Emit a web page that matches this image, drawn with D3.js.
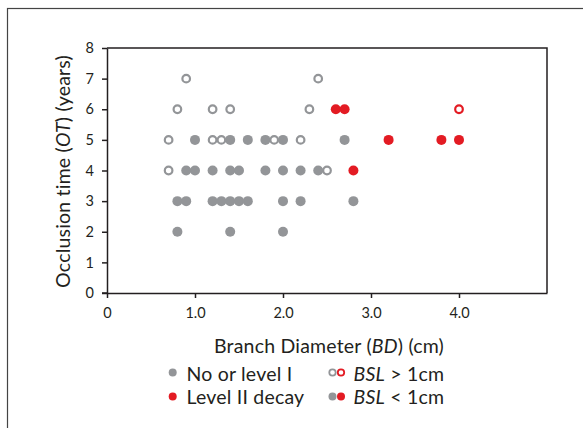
<!DOCTYPE html>
<html>
<head>
<meta charset="utf-8">
<script src="https://cdn.jsdelivr.net/npm/d3@7"></script>
<style>
  html, body { margin: 0; padding: 0; background: #fff; }
  svg { display: block; font-family: Lato, "Open Sans", sans-serif; }
</style>
</head>
<body>
<svg id="chart" width="583" height="428"></svg>
<script>
// ---- Data (Branch Diameter cm, Occlusion time years) ----
const grayOpenBD   = [0.9, 2.4, 0.8, 1.2, 1.4, 2.3, 0.7, 1.2, 1.3, 1.9, 2.2, 0.7, 2.5];
const grayOpenOT   = [7,   7,   6,   6,   6,   6,   5,   5,   5,   5,   5,   4,   4];

const grayFilledBD = [1.0, 1.4, 1.6, 1.8, 2.0, 2.7,
                      0.9, 1.0, 1.2, 1.4, 1.5, 1.8, 2.0, 2.2, 2.4,
                      0.8, 0.9, 1.2, 1.3, 1.4, 1.5, 1.6, 2.0, 2.2, 2.8,
                      0.8, 1.4, 2.0];
const grayFilledOT = [5, 5, 5, 5, 5, 5,
                      4, 4, 4, 4, 4, 4, 4, 4, 4,
                      3, 3, 3, 3, 3, 3, 3, 3, 3, 3,
                      2, 2, 2];

const redFilledBD  = [2.6, 2.7, 3.2, 3.8, 4.0, 2.8];
const redFilledOT  = [6,   6,   5,   5,   5,   4];

const redOpenBD    = [4.0];
const redOpenOT    = [6];

const xTicks = [0, 1, 2, 3, 4];
const xTickLabels = ["0", "1.0", "2.0", "3.0", "4.0"];
const yTicks = [0, 1, 2, 3, 4, 5, 6, 7, 8];

const GRAY = "#939598";
const RED = "#e31b23";
const INK = "#231f20";

const svg = d3.select("#chart");

// outer figure border
svg.append("rect")
  .attr("x", 7.5).attr("y", 8.5)
  .attr("width", 600).attr("height", 450)
  .attr("fill", "none").attr("stroke", "#444").attr("stroke-width", 1.2);

const L = 107, R = 547, T = 48, B = 293;
const x = d3.scaleLinear().domain([0, 5]).range([L, R]);
const y = d3.scaleLinear().domain([0, 8]).range([B, T]);

// plot frame (top and right)
svg.append("path")
  .attr("d", `M${L},${T}H${R}V${B}`)
  .attr("fill", "none").attr("stroke", INK).attr("stroke-width", 1.5);

const xAxis = svg.append("g").attr("transform", `translate(0,${B})`)
  .call(d3.axisBottom(x).tickValues(xTicks).tickFormat((d, i) => xTickLabels[i])
    .tickSizeInner(5).tickSizeOuter(0).tickPadding(10));
const yAxis = svg.append("g").attr("transform", `translate(${L},0)`)
  .call(d3.axisLeft(y).tickValues(yTicks).tickFormat(d3.format("d"))
    .tickSizeInner(5).tickSizeOuter(0).tickPadding(8));

[xAxis, yAxis].forEach(g => {
  g.select(".domain").attr("stroke", INK).attr("stroke-width", 1.5);
  g.selectAll(".tick line").attr("stroke", INK).attr("stroke-width", 1.5);
  g.selectAll(".tick text").attr("fill", INK).attr("font-size", 14.5)
    .attr("font-family", "Lato, sans-serif");
});
svg.append("line").attr("x1", L - 5).attr("x2", L).attr("y1", B).attr("y2", B)
  .attr("stroke", INK).attr("stroke-width", 1.5);

// axis titles
const TITLE_FS = 19.5;
const xt = svg.append("text").attr("x", 329).attr("y", 353)
  .attr("text-anchor", "middle").attr("font-size", TITLE_FS).attr("fill", INK)
  .attr("letter-spacing", 0.2);
xt.append("tspan").text("Branch Diameter (");
xt.append("tspan").attr("font-style", "italic").text("BD");
xt.append("tspan").text(") (cm)");

const yt = svg.append("text").attr("transform", "translate(70,171.5) rotate(-90)")
  .attr("text-anchor", "middle").attr("font-size", TITLE_FS).attr("fill", INK)
  .attr("letter-spacing", 0.2);
yt.append("tspan").text("Occlusion time (");
yt.append("tspan").attr("font-style", "italic").text("OT");
yt.append("tspan").text(") (years)");

// points
const pts = svg.append("g");
function filled(bd, ot, color) {
  pts.selectAll(null).data(d3.zip(bd, ot)).join("circle")
    .attr("cx", d => x(d[0])).attr("cy", d => y(d[1])).attr("r", 5)
    .attr("fill", color);
}
function open(bd, ot, color) {
  pts.selectAll(null).data(d3.zip(bd, ot)).join("circle")
    .attr("cx", d => x(d[0])).attr("cy", d => y(d[1])).attr("r", 3.8)
    .attr("fill", "#fff").attr("stroke", color).attr("stroke-width", 2.2);
}
filled(grayFilledBD, grayFilledOT, GRAY);
filled(redFilledBD, redFilledOT, RED);
open(grayOpenBD, grayOpenOT, GRAY);
open(redOpenBD, redOpenOT, RED);

// legend
const lg = svg.append("g").attr("font-size", TITLE_FS).attr("fill", INK)
  .attr("letter-spacing", 0.2);
lg.append("circle").attr("cx", 172.7).attr("cy", 372.5).attr("r", 4).attr("fill", GRAY);
lg.append("text").attr("x", 186.5).attr("y", 381).text("No or level I");
lg.append("circle").attr("cx", 172.7).attr("cy", 396.5).attr("r", 4).attr("fill", RED);
lg.append("text").attr("x", 186.5).attr("y", 403.5).text("Level II decay");

lg.append("circle").attr("cx", 332.5).attr("cy", 372.5).attr("r", 3.2)
  .attr("fill", "#fff").attr("stroke", GRAY).attr("stroke-width", 1.8);
lg.append("circle").attr("cx", 341).attr("cy", 372.5).attr("r", 3.2)
  .attr("fill", "#fff").attr("stroke", RED).attr("stroke-width", 1.8);
const t1 = lg.append("text").attr("x", 353.5).attr("y", 381);
t1.append("tspan").attr("font-style", "italic").text("BSL");
t1.append("tspan").text(" > 1cm");
lg.append("circle").attr("cx", 332.5).attr("cy", 396.5).attr("r", 4).attr("fill", GRAY);
lg.append("circle").attr("cx", 341).attr("cy", 396.5).attr("r", 4).attr("fill", RED);
const t2 = lg.append("text").attr("x", 353.5).attr("y", 403.5);
t2.append("tspan").attr("font-style", "italic").text("BSL");
t2.append("tspan").text(" < 1cm");
</script>
</body>
</html>
